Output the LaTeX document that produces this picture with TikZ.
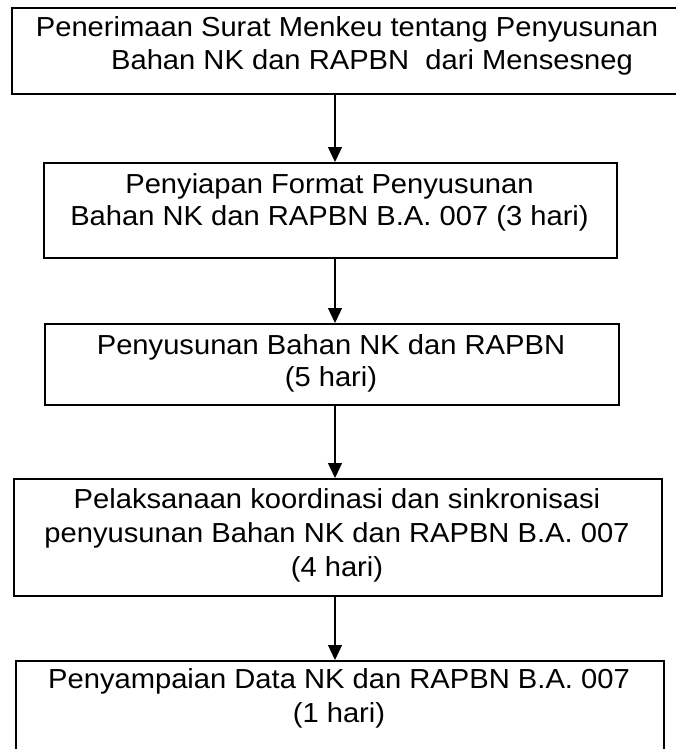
\documentclass[tikz,border=0pt]{standalone}
\usepackage{fontspec}
\setmainfont{Liberation Sans}[FakeStretch=1.06]
\usetikzlibrary{arrows.meta}
\begin{document}
\begin{tikzpicture}[x=1pt,y=-1pt,
  box/.style={draw=black, line width=1.6pt, rectangle, anchor=north west, inner sep=0pt},
  txt/.style={anchor=base, inner sep=0pt, font=\fontsize{27.5pt}{33pt}\selectfont},
  arr/.style={draw=black, line width=1.2pt, -{Triangle[length=15pt,width=14pt]}}]
\useasboundingbox (0,0) rectangle (676,749);
% boxes
\node[box, minimum width=673pt, minimum height=86pt] (b1) at (11,7) {};
\node[box, minimum width=573pt, minimum height=95pt] (b2) at (43,162) {};
\node[box, minimum width=574pt, minimum height=81pt] (b3) at (44,323) {};
\node[box, minimum width=648pt, minimum height=117pt] (b4) at (13,478) {};
\node[box, minimum width=648pt, minimum height=100pt] (b5) at (15,660) {};
% texts
\node[txt] (t1a) at (347,37) {Penerimaan Surat Menkeu tentang Penyusunan};
\node[txt] (t1b) at (372,70) {Bahan NK dan RAPBN\ \ dari Mensesneg};
\node[txt] (t2a) at (329.5,193) {Penyiapan Format Penyusunan};
\node[txt] (t2b) at (329.5,225) {Bahan NK dan RAPBN B.A. 007 (3 hari)};
\node[txt] (t3a) at (331,354) {Penyusunan Bahan NK dan RAPBN};
\node[txt] (t3b) at (331,386) {(5 hari)};
\node[txt] (t4a) at (337,508) {Pelaksanaan koordinasi dan sinkronisasi};
\node[txt] (t4b) at (337,542) {penyusunan Bahan NK dan RAPBN B.A. 007};
\node[txt] (t4c) at (337,576) {(4 hari)};
\node[txt] (t5a) at (339,688) {Penyampaian Data NK dan RAPBN B.A. 007};
\node[txt] (t5b) at (339,722) {(1 hari)};
% arrows
\coordinate (ax) at (335,0);
\draw[arr] (b1.south -| ax) -- (b2.north -| ax);
\draw[arr] (b2.south -| ax) -- (b3.north -| ax);
\draw[arr] (b3.south -| ax) -- (b4.north -| ax);
\draw[arr] (b4.south -| ax) -- (b5.north -| ax);
\end{tikzpicture}
\end{document}
